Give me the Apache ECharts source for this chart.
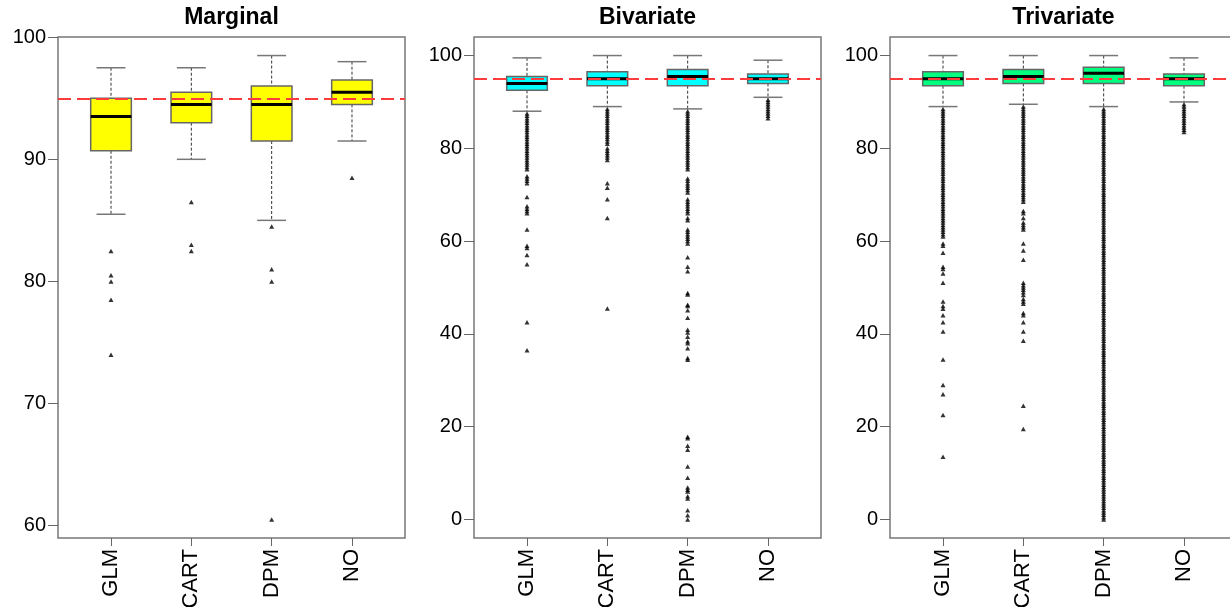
<!DOCTYPE html>
<html>
<head>
<meta charset="utf-8">
<script src="https://cdn.jsdelivr.net/npm/echarts@6/dist/echarts.min.js"></script>
<style>
html,body{margin:0;padding:0;background:#fff;}
#chart{width:1230px;height:607px;}
</style>
</head>
<body>
<div id="chart"></div>
<script>
// ---------- data ----------
const categories = ['GLM', 'CART', 'DPM', 'NO'];
const panelTitles = ['Marginal', 'Bivariate', 'Trivariate'];
const boxColors = ['#FFFF00', '#00FFFF', '#00FF7F'];
const targetValue = 95;

// [lower whisker, Q1, median, Q3, upper whisker]
const marginalStats = [
  [85.5, 90.7, 93.5, 95.0, 97.5],
  [90.0, 93.0, 94.5, 95.5, 97.5],
  [85.0, 91.5, 94.5, 96.0, 98.5],
  [91.5, 94.5, 95.5, 96.5, 98.0]
];
const marginalOutliers = [
  [82.5, 80.5, 80.0, 78.5, 74.0],
  [86.5, 83.0, 82.5],
  [84.5, 81.0, 80.0, 60.5],
  [88.5]
];

const bivariateStats = [
  [88.0, 92.5, 94.0, 95.5, 99.5],
  [89.0, 93.5, 95.0, 96.5, 100],
  [88.5, 93.5, 95.5, 97.0, 100],
  [91.0, 94.0, 95.0, 96.0, 99.0]
];
const bivariateOutliers = [
  [87.5, 87, 86.5, 86, 85.5, 85, 84.5, 84, 83.5, 83, 82.5, 82, 81.5, 81, 80.5, 80, 79.5, 79, 78.5, 78, 77.5, 77, 76.5, 76, 75.5,
   74, 73.5, 73, 72.5, 69.5, 67.5, 67, 66.5, 66, 62.5, 59, 58.5, 57, 55, 42.5, 36.5],
  [88.5, 88, 87.5, 87, 86.5, 86, 85.5, 85, 84.5, 84, 83.5, 83, 82.5, 82, 81.5, 81, 80, 79.5, 79, 78.5, 78, 77.5,
   72.5, 71.5, 69, 65, 45.5],
  [88, 87.5, 87, 86.5, 86, 85.5, 85, 84.5, 84, 83.5, 83, 82.5, 82, 81.5, 81, 80.5, 80, 79.5, 79, 78.5, 78, 77.5, 77, 76.5, 76, 75.5,
   73.5, 73, 72.5, 72, 71.5, 71, 70.5, 69, 68.5, 68, 67.5, 67, 66.5, 66, 65, 64.5, 62.5, 62, 61.5, 61, 60.5, 60, 59.5,
   56.5, 54.5, 53.5, 48.8, 48.5, 46.3, 46, 45.1, 43.5, 40.9, 40.3, 39.4, 38.4, 38, 36.9, 34.8, 34.4,
   17.8, 17.5, 15.9, 15, 11.4, 9, 6.9, 6.4, 6, 5, 4.5, 2, 0.9, 0],
  [90.5, 90, 89.5, 89, 88.5, 88, 87.5, 87, 86.5]
];

const trivariateStats = [
  [89.0, 93.5, 95.0, 96.5, 100],
  [89.5, 94.0, 95.5, 97.0, 100],
  [89.0, 94.0, 96.2, 97.5, 100],
  [90.0, 93.5, 95.0, 96.0, 99.5]
];
const trivariateOutliers = [
  [88.5, 88, 87.5, 87, 86.5, 86, 85.5, 85, 84.5, 84, 83.5, 83, 82.5, 82, 81.5, 81, 80.5, 80, 79.5, 79, 78.5, 78, 77.5, 77, 76.5, 76,
   75.5, 75, 74.5, 74, 73.5, 73, 72.5, 72, 71.5, 71, 70.5, 70, 69.5, 69, 68.5, 68, 67.5, 67, 66.5, 66, 65.5, 65, 64.5, 64, 63.5, 63,
   62.5, 62, 61.5, 61, 59.5, 59, 57.5, 54.5, 54, 53, 51, 47, 46, 45.4, 44, 42.5, 40.5, 34.5, 29, 27, 22.5, 13.5],
  [89, 88.5, 88, 87.5, 87, 86.5, 86, 85.5, 85, 84.5, 84, 83.5, 83, 82.5, 82, 81.5, 81, 80.5, 80, 79.5, 79, 78.5, 78, 77.5, 77, 76.5,
   76, 75.5, 75, 74.5, 74, 73.5, 73, 72.5, 72, 71.5, 71, 70.5, 70, 69.5, 69, 68.5,
   66.5, 66, 65, 64, 63.5, 63, 62.5, 59.5, 58, 56, 51, 50.5, 50, 49.5, 49, 48.4, 47.5, 47, 46.5, 44.5, 44, 42.5, 40.5, 38.5, 24.5, 19.5],
  [88.5, 88, 87.5, 87, 86.5, 86, 85.5, 85, 84.5, 84, 83.5, 83, 82.5, 82, 81.5, 81, 80.5, 80, 79.5, 79, 78.5, 78, 77.5, 77, 76.5, 76,
   75.5, 75, 74.5, 74, 73.5, 73, 72.5, 72, 71.5, 71, 70.5, 70, 69.5, 69, 68.5, 68, 67.5, 67, 66.5, 66, 65.5, 65, 64.5, 64, 63.5, 63,
   62.5, 62, 61.5, 61, 60.5, 60, 59.5, 59, 58.5, 58, 57.5, 57, 56.5, 56, 55.5, 55, 54.5, 54, 53.5, 53, 52.5, 52, 51.5, 51, 50.5, 50,
   49.5, 49, 48.5, 48, 47.5, 47, 46.5, 46, 45.5, 45, 44.5, 44, 43.5, 43, 42.5, 42, 41.5, 41, 40.5, 40, 39.5, 39, 38.5, 38, 37.5, 37,
   36.5, 36, 35.5, 35, 34.5, 34, 33.5, 33, 32.5, 32, 31.5, 31, 30.5, 30, 29.5, 29, 28.5, 28, 27.5, 27, 26.5, 26, 25.5, 25, 24.5, 24,
   23.5, 23, 22.5, 22, 21.5, 21, 20.5, 20, 19.5, 19, 18.5, 18, 17.5, 17, 16.5, 16, 15.5, 15, 14.5, 14, 13.5, 13, 12.5, 12, 11.5, 11,
   10.5, 10, 9.5, 9, 8.5, 8, 7.5, 7, 6.5, 6, 5.5, 5, 4.5, 4, 3.5, 3, 2.5, 2, 1.5, 1, 0.5, 0],
  [89.5, 89, 88.5, 88, 87.5, 87, 86.5, 86, 85.5, 85, 84.5, 84, 83.5]
];

const yTicksMarginal = [60, 70, 80, 90, 100];
const yTicksOther = [0, 20, 40, 60, 80, 100];
const yRangeMarginal = [58.98, 100.02];
const yRangeOther = [-4, 104];

// ---------- layout / style ----------
const FONT = '"Liberation Sans", Arial, sans-serif';
const gridLefts = [58, 474, 890];
const GRID_TOP = 37, GRID_W = 347, GRID_H = 501;
const X_MIN = 0.34, X_MAX = 4.66;
const BOX_HALF = 0.253, CAP_HALF = 0.18;

const panels = [
  {stats: marginalStats, outliers: marginalOutliers, ticks: yTicksMarginal, range: yRangeMarginal},
  {stats: bivariateStats, outliers: bivariateOutliers, ticks: yTicksOther, range: yRangeOther},
  {stats: trivariateStats, outliers: trivariateOutliers, ticks: yTicksOther, range: yRangeOther}
];

function makeRender(fillColor) {
  return function (params, api) {
    const x = api.value(0);
    const pLo = api.coord([x, api.value(1)]);
    const pQ1 = api.coord([x, api.value(2)]);
    const pMed = api.coord([x, api.value(3)]);
    const pQ3 = api.coord([x, api.value(4)]);
    const pHi = api.coord([x, api.value(5)]);
    const bw = api.size([BOX_HALF, 0])[0];
    const cw = api.size([CAP_HALF, 0])[0];
    const cx = pMed[0];
    const whisk = {stroke: '#333', lineWidth: 1, lineDash: [3, 2]};
    const cap = {stroke: '#777', lineWidth: 1.5};
    return {
      type: 'group',
      children: [
        {type: 'line', shape: {x1: cx, y1: pHi[1], x2: cx, y2: pQ3[1]}, style: whisk},
        {type: 'line', shape: {x1: cx, y1: pQ1[1], x2: cx, y2: pLo[1]}, style: whisk},
        {type: 'line', shape: {x1: cx - cw, y1: pHi[1], x2: cx + cw, y2: pHi[1]}, style: cap},
        {type: 'line', shape: {x1: cx - cw, y1: pLo[1], x2: cx + cw, y2: pLo[1]}, style: cap},
        {type: 'rect', shape: {x: cx - bw, y: pQ3[1], width: 2 * bw, height: pQ1[1] - pQ3[1]},
          style: {fill: fillColor, stroke: '#666', lineWidth: 1.5}},
        {type: 'line', shape: {x1: cx - bw, y1: pMed[1], x2: cx + bw, y2: pMed[1]},
          style: {stroke: '#000', lineWidth: 3}}
      ]
    };
  };
}

const grids = [], xAxes = [], yAxes = [], series = [], graphics = [];
panels.forEach(function (p, i) {
  grids.push({left: gridLefts[i], top: GRID_TOP, width: GRID_W, height: GRID_H,
    outerBoundsMode: 'none', containLabel: false,
    show: true, borderColor: '#777', borderWidth: 1.5, backgroundColor: 'transparent'});
  xAxes.push({
    type: 'value', gridIndex: i, min: X_MIN, max: X_MAX, position: 'bottom',
    splitLine: {show: false}, axisLine: {show: false, onZero: false},
    axisTick: {show: true, length: 8, customValues: [1, 2, 3, 4], lineStyle: {color: '#666', width: 1}},
    axisLabel: {show: true, customValues: [1, 2, 3, 4], rotate: 90, margin: 11,
      fontSize: 22, fontFamily: FONT, color: '#000',
      formatter: function (v) { return categories[Math.round(v) - 1]; }}
  });
  yAxes.push({
    type: 'value', gridIndex: i, min: p.range[0], max: p.range[1], position: 'left',
    splitLine: {show: false}, axisLine: {show: false, onZero: false},
    axisTick: {show: true, length: 10, customValues: p.ticks, lineStyle: {color: '#666', width: 1}},
    axisLabel: {show: true, customValues: p.ticks, margin: 12, fontSize: 20, fontFamily: FONT, color: '#000'}
  });
  const boxData = p.stats.map(function (s, k) { return [k + 1].concat(s); });
  series.push({
    type: 'custom', xAxisIndex: i, yAxisIndex: i, z: 2,
    renderItem: makeRender(boxColors[i]),
    encode: {x: 0, y: [1, 2, 3, 4, 5]},
    data: boxData, silent: true
  });
  const outData = [];
  p.outliers.forEach(function (arr, k) { arr.forEach(function (v) { outData.push([k + 1, v]); }); });
  series.push({
    type: 'scatter', xAxisIndex: i, yAxisIndex: i, z: 3,
    symbol: 'triangle', symbolSize: [5, 4.5],
    itemStyle: {color: '#000'},
    data: outData, silent: true, animation: false
  });
  series.push({
    type: 'line', xAxisIndex: i, yAxisIndex: i, z: 5,
    data: [], silent: true,
    markLine: {
      silent: true, symbol: 'none', animation: false,
      label: {show: false},
      lineStyle: {color: '#FF3B3B', width: 2, type: [13, 6]},
      data: [{yAxis: targetValue}]
    }
  });
  graphics.push({
    type: 'text', x: gridLefts[i] + GRID_W / 2, y: 18,
    style: {text: panelTitles[i], font: 'bold 23px ' + FONT, fill: '#000',
      textAlign: 'center', textVerticalAlign: 'middle'}
  });
});

const chart = echarts.init(document.getElementById('chart'), null, {renderer: 'canvas'});
chart.setOption({
  animation: false,
  backgroundColor: '#fff',
  grid: grids,
  xAxis: xAxes,
  yAxis: yAxes,
  series: series,
  graphic: graphics
});
</script>
</body>
</html>
